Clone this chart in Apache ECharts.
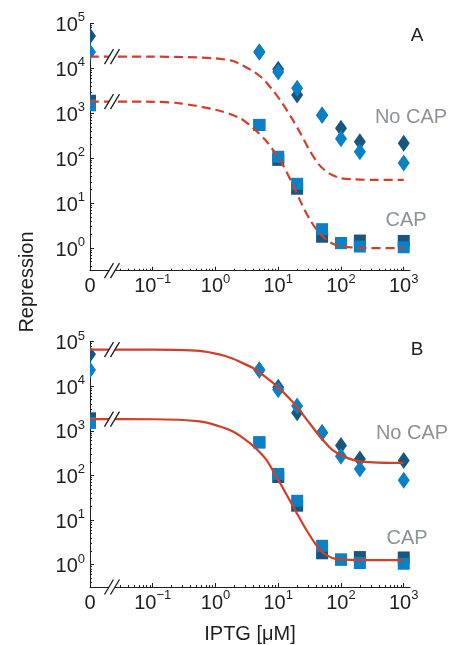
<!DOCTYPE html>
<html><head><meta charset="utf-8">
<script src="https://cdn.jsdelivr.net/npm/echarts@6/dist/echarts.min.js"></script>
<style>html,body{margin:0;padding:0;background:#fff}#c{width:450px;height:645px}</style>
</head><body><div id="c"></div>
<script>
// ---- data ----
const iptg = [0, 5, 10, 20, 50, 100, 200, 1000];
const noCapDark  = [52000, 23000, 9500, 2550, 900, 465, 234, 215];
const noCapLight = [23000, 23000, 8300, 3600, 920, 270, 140, 78];
const capDark    = [1900, 550, 92, 21, 1.8, 1.3, 1.48, 1.45];
const capLight   = [1500, 550, 108, 27, 2.65, 1.3, 1.09, 1.05];

// fitted curves (panel A dashed, panel B solid)
const fitA_noCap_x = [0.01, 0.1, 0.3, 1, 1.9, 2.4, 3.9, 5.6, 7.9, 11.5, 16.6, 23.4, 30.9, 44.7, 64.6, 100, 160, 320, 1000];
const fitA_noCap_y = [18200, 18100, 17800, 16600, 14500, 12600, 8700, 6000, 3470, 1700, 760, 330, 158, 72, 46, 36, 34, 33, 33];
const fitA_cap_x = [0.01, 0.1, 0.27, 1, 2.4, 3.9, 6.3, 9.1, 11.5, 16.6, 24, 33, 48, 69, 100, 200, 1000];
const fitA_cap_y = [1820, 1800, 1660, 1200, 790, 480, 250, 126, 76, 28, 9.3, 4.0, 2.0, 1.32, 1.1, 1.02, 1.0];
const fitB_noCap_x = [0.01, 0.1, 0.56, 1.15, 1.86, 2.4, 3.9, 5, 9.1, 16.6, 27.5, 44.7, 72, 117, 214, 1000];
const fitB_noCap_y = [66000, 65800, 61700, 51300, 41700, 35500, 25700, 20400, 10500, 4570, 1900, 790, 380, 257, 204, 190];
const fitB_cap_x = [0.01, 0.1, 0.56, 1.15, 1.86, 2.4, 3.9, 6.3, 9.1, 13.2, 19, 27.5, 40, 56, 93, 1000];
const fitB_cap_y = [1820, 1810, 1620, 1260, 980, 790, 470, 234, 100, 40, 15.8, 6.3, 2.8, 1.7, 1.32, 1.26];

// tick labels (base^exponent)
const xTickLabels = ['0', '10^−1', '10^0', '10^1', '10^2', '10^3']; // exponents -2..3 ("0" sits at 10^-2)
const yTickLabels = ['10^0', '10^1', '10^2', '10^3', '10^4', '10^5'];  // exponents 0..5

const panelLetters = ['A', 'B'];
const seriesNames = ['No CAP', 'CAP'];

// ---- presentation ----
const FONT = 'Liberation Sans, Arial, Helvetica, sans-serif';
const DARK = '#16567f', LIGHT = '#0a80c6', RED = '#cf3f2a', GRAY = '#8c9298', INK = '#1e1e1e';
const zeroPos = 0.01;              // where x = 0 is drawn on the broken log axis
const breakX = 0.0224;             // x position of the "//" break marks
const xMin = 0.01, xMax = Math.pow(10, 3.1);
const yMin = Math.pow(10, -0.5), yMax = 1e5;
const grids = [
  {left: 90, top: 23.3, width: 320, height: 247.4},
  {left: 90, top: 341.5, width: 320, height: 247}
];

function richLabel(s) {
  const p = s.split('^');
  return p.length === 1 ? '{b|' + p[0] + '}' : '{b|' + p[0] + '}{s|' + p[1] + '}';
}
const rich = {
  b: {fontSize: 20, lineHeight: 24, verticalAlign: 'bottom', fontFamily: FONT, color: INK},
  s: {fontSize: 13, lineHeight: 13, verticalAlign: 'top', fontFamily: FONT, color: INK}
};
function expOf(v) {
  const l = Math.log10(v), e = Math.round(l);
  return Math.abs(l - e) < 1e-6 ? e : null;
}
const minorX = [], minorY = [];
for (let k = -2; k <= 2; k++) for (let m = 2; m <= 9; m++) {
  const v = m * Math.pow(10, k);
  if (v > 0.025 && v < 1000) minorX.push(+v.toPrecision(3));
}
for (let k = -1; k <= 4; k++) for (let m = 2; m <= 9; m++) {
  const v = m * Math.pow(10, k);
  if (v > yMin && v < yMax) minorY.push(+v.toPrecision(3));
}

const halfDiamond = 'path://M0,0L1,1L0,2Z';
function pts(ys, kind) {
  return iptg.map((x, i) => {
    const item = {value: [x === 0 ? zeroPos : x, ys[i]]};
    if (x === 0) {
      if (kind === 'diamond') { item.symbol = halfDiamond; item.symbolSize = [6, 17]; item.symbolOffset = [3, 0]; }
      else { item.symbol = 'rect'; item.symbolSize = [6, 12]; item.symbolOffset = [3, 0]; }
    }
    return item;
  });
}
function curve(xs, ys) { return xs.map((x, i) => [x, ys[i]]); }

const xAxis = [], yAxis = [], series = [];
const fits = [
  [curve(fitA_noCap_x, fitA_noCap_y), curve(fitA_cap_x, fitA_cap_y)],
  [curve(fitB_noCap_x, fitB_noCap_y), curve(fitB_cap_x, fitB_cap_y)]
];
grids.forEach((g, gi) => {
  const ax = xAxis.length, ay = yAxis.length;
  xAxis.push({
    gridIndex: gi, type: 'log', logBase: 10, min: xMin, max: xMax, position: 'bottom',
    axisLine: {onZero: false, lineStyle: {color: INK, width: 1}},
    axisTick: {inside: true, length: 4, lineStyle: {color: INK}},
    splitLine: {show: false},
    axisLabel: {
      margin: 2, rich: rich, showMaxLabel: false,
      formatter: v => { const e = expOf(v); return (e === null || e < -2 || e > 3) ? '' : richLabel(xTickLabels[e + 2]); }
    },
    name: gi === 1 ? 'IPTG [μM]' : '', nameLocation: 'middle', nameGap: 37,
    nameTextStyle: {fontSize: 20, fontFamily: FONT, color: INK}
  });
  xAxis.push({
    gridIndex: gi, type: 'log', logBase: 10, min: xMin, max: xMax, position: 'bottom',
    axisLine: {show: false, onZero: false}, axisLabel: {show: false}, splitLine: {show: false},
    axisTick: {inside: true, length: 2, customValues: minorX, lineStyle: {color: INK}}
  });
  yAxis.push({
    gridIndex: gi, type: 'log', logBase: 10, min: yMin, max: yMax, position: 'left',
    axisLine: {onZero: false, lineStyle: {color: INK, width: 1}},
    axisTick: {inside: true, length: 4, lineStyle: {color: INK}},
    splitLine: {show: false},
    axisLabel: {
      margin: 5, rich: rich, showMinLabel: false,
      formatter: v => { const e = expOf(v); return (e === null || e < 0 || e > 5) ? '' : richLabel(yTickLabels[e]); }
    }
  });
  yAxis.push({
    gridIndex: gi, type: 'log', logBase: 10, min: yMin, max: yMax, position: 'left',
    axisLine: {show: false, onZero: false}, axisLabel: {show: false}, splitLine: {show: false},
    axisTick: {inside: true, length: 2, customValues: minorY, lineStyle: {color: INK}}
  });
  const base = {xAxisIndex: ax, yAxisIndex: ay, clip: false, z: 2, silent: true};
  series.push(Object.assign({type: 'scatter', symbol: 'diamond', symbolSize: [12, 17], itemStyle: {color: DARK, opacity: 1}, data: pts(noCapDark, 'diamond')}, base));
  series.push(Object.assign({type: 'scatter', symbol: 'diamond', symbolSize: [12, 17], itemStyle: {color: LIGHT, opacity: 1}, data: pts(noCapLight, 'diamond')}, base));
  series.push(Object.assign({type: 'scatter', symbol: 'rect', symbolSize: 12, itemStyle: {color: DARK, opacity: 1}, data: pts(capDark, 'rect')}, base));
  series.push(Object.assign({type: 'scatter', symbol: 'rect', symbolSize: 12, itemStyle: {color: LIGHT, opacity: 1}, data: pts(capLight, 'rect')}, base));
  fits[gi].forEach(d => {
    series.push({
      type: 'line', xAxisIndex: ax, yAxisIndex: ay, data: d, showSymbol: false, smooth: 0.3,
      z: 3, silent: true,
      lineStyle: {color: RED, width: 2.2, type: gi === 0 ? [9, 5] : 'solid'}
    });
  });
  const breaks = [[breakX, fits[gi][0][0][1]], [breakX, fits[gi][1][0][1]], [breakX, yMin]];
  series.push({
    type: 'scatter', xAxisIndex: ax, yAxisIndex: ay, clip: false, z: 4, silent: true,
    symbol: 'path://M0,15L9,0L15,0L6,15Z', symbolSize: [15, 15],
    itemStyle: {color: '#fff', opacity: 1}, data: breaks
  });
  series.push({
    type: 'scatter', xAxisIndex: ax, yAxisIndex: ay, clip: false, z: 5, silent: true,
    symbol: 'path://M0,15L9,0M6,15L15,0', symbolSize: [15, 15],
    itemStyle: {color: 'rgba(0,0,0,0)', borderColor: INK, borderWidth: 1.3, opacity: 1}, data: breaks
  });
});

function txt(x, y, s, size, color, rot) {
  return {type: 'text', x: x, y: y, rotation: rot || 0, z: 10, silent: true,
    style: {text: s, fontSize: size, fontFamily: FONT, fill: color, align: 'center', verticalAlign: 'middle'}};
}
const graphic = [
  txt(417, 36, panelLetters[0], 19, INK),
  txt(417, 350, panelLetters[1], 19, INK),
  txt(411, 117, seriesNames[0], 20, GRAY),
  txt(406, 220, seriesNames[1], 20, GRAY),
  txt(412, 433, seriesNames[0], 20, GRAY),
  txt(407, 538, seriesNames[1], 20, GRAY),
  txt(27, 282, 'Repression', 20, INK, Math.PI / 2)
];

const chart = echarts.init(document.getElementById('c'), null, {renderer: 'canvas'});
chart.setOption({
  animation: false, backgroundColor: '#fff',
  textStyle: {fontFamily: FONT},
  grid: grids.map(g => Object.assign({containLabel: false}, g)),
  xAxis: xAxis, yAxis: yAxis, series: series, graphic: graphic
});
</script></body></html>
